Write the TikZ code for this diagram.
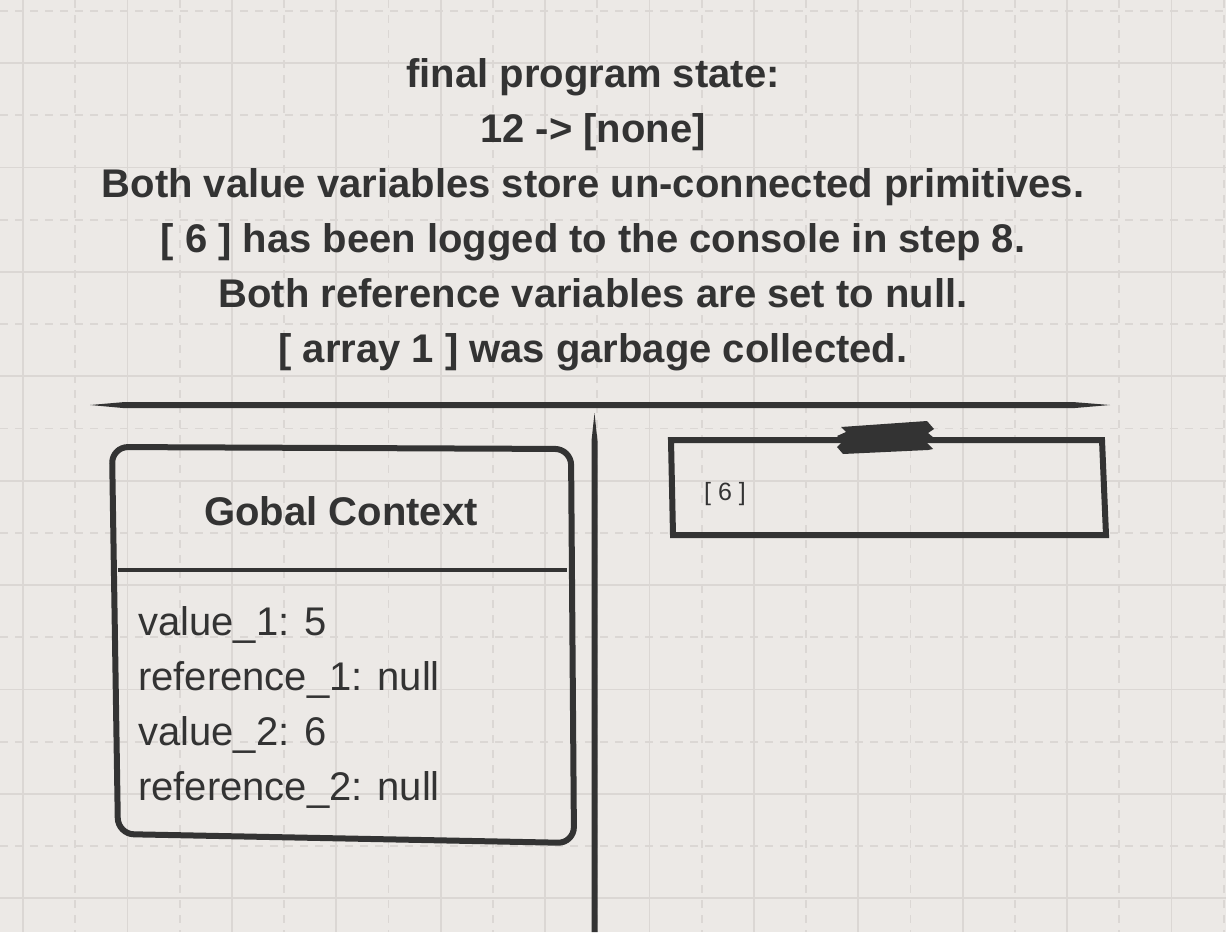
\documentclass[tikz,border=0pt]{standalone}
\usepackage{fontspec}
\setmainfont{Liberation Sans}
\usetikzlibrary{calc,positioning}

\definecolor{paper}{RGB}{236,233,230}
\definecolor{gridline}{RGB}{219,215,212}
\definecolor{ink}{RGB}{51,51,51}

\begin{document}
\begin{tikzpicture}[x=1pt, y=-1pt,
    gridsolid/.style = {draw=gridline, line width=1.8pt},
    griddash/.style = {draw=gridline, line width=1.8pt, dash pattern=on 8pt off 7pt},
    sketch/.style = {draw=ink, line width=6pt, line join=round},
    heading/.style = {text=ink, inner sep=0pt, font=\fontsize{40}{55}\selectfont\bfseries},
    entry/.style = {text=ink, inner sep=0pt, anchor=base west, font=\fontsize{40}{55}\selectfont},
  ]
  \useasboundingbox[fill=paper] (0,0) rectangle (1226,932);

  % paper grid
  \foreach \k in {0,...,11} {
    \draw[gridsolid] ({23+104.4*\k},0) -- ++(0,932);
    \draw[griddash] ({75.2+104.4*\k},0) -- ++(0,932);
  }
  \foreach \k in {0,...,8} {
    \draw[gridsolid] (0,{63+104.4*\k}) -- ++(1226,0);
    \draw[griddash] (0,{10.8+104.4*\k}) -- ++(1226,0);
  }

  % heading (base = last line)
  \node[heading, align=center, anchor=base] (title) at (593,362)
    {final program state:\\12 -> [none]\\Both value variables store un-connected primitives.\\{[} 6 ] has been logged to the console in step 8.\\Both reference variables are set to null.\\{[} array 1 ] was garbage collected.};

  % separators
  \coordinate (sepL) at (90,405);
  \coordinate (sepR) at (1110,405);
  \fill[ink] (sepL) -- ($(sepL)+(35,-3)$) -- ($(sepR)+(-35,-2.8)$) -- (sepR)
    -- ($(sepR)+(-35,3)$) -- ($(sepL)+(35,3.2)$) -- cycle;
  \coordinate (colT) at (594.5,413);
  \coordinate (colB) at (594.5,932);
  \fill[ink] (colT) -- ($(colT)+(3,28)$) -- ($(colB)+(3,0)$) -- ($(colB)+(-3,0)$)
    -- ($(colT)+(-3,28)$) -- cycle;

  % global context
  \draw[sketch, rounded corners=16pt] (112,447) -- (571,449) -- (574,843) -- (118,834) -- cycle;
  \draw[draw=ink, line width=4pt] (118,570) -- (567,570);
  \node[heading, anchor=base] (ctx) at (341,525) {Gobal Context};
  \node[entry] (v1) at (138,635) {value\_1: 5};
  \node[entry] (r1) at ($(v1.base west)+(0,55)$) {reference\_1: null};
  \node[entry] (v2) at ($(r1.base west)+(0,55)$) {value\_2: 6};
  \node[entry] (r2) at ($(v2.base west)+(0,55)$) {reference\_2: null};

  % console
  \draw[sketch, line join=miter] (671,440) -- (1102,440) -- (1106,535) -- (673,535) -- cycle;
  \fill[ink] (841,427) -- (846,432) -- (837,436) -- (843,441) -- (837,447) -- (843,454)
    -- (928,450) -- (933,449) -- (927,443) -- (934,438) -- (928,433) -- (934,429)
    -- (927,421) -- cycle;
  \node[entry, font=\fontsize{25}{30}\selectfont] (logged) at (704,500) {[ 6 ]};
\end{tikzpicture}
\end{document}
